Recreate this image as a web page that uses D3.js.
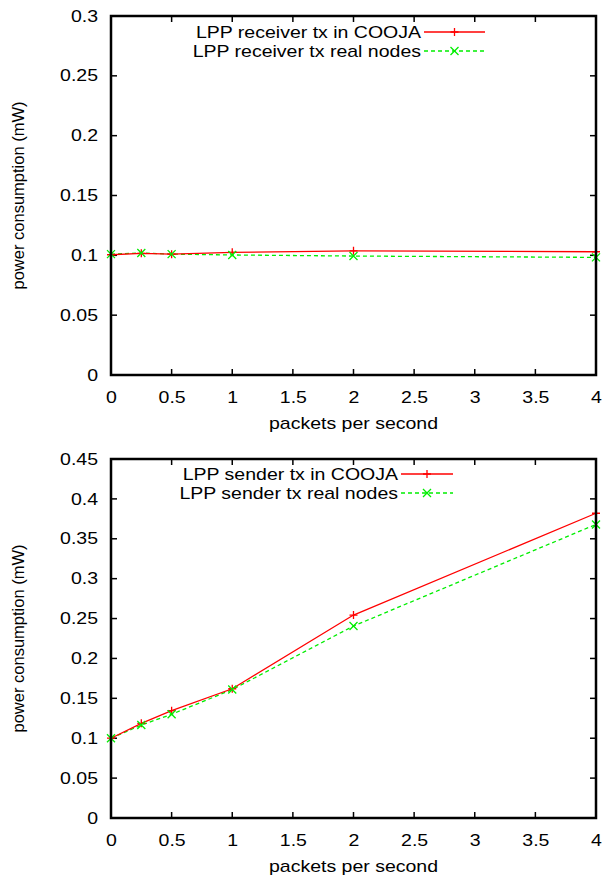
<!DOCTYPE html>
<html>
<head>
<meta charset="utf-8">
<script src="https://cdn.jsdelivr.net/npm/d3@7"></script>
<style>
  body { margin: 0; background: #fff; }
  text { font-family: "Liberation Sans", Arial, sans-serif; fill: #000; }
</style>
</head>
<body>
<div id="chart"></div>
<script>
// x values (packets per second)
const rate = [0, 0.25, 0.5, 1, 2, 4];

// top panel: receiver
const rxCooja = [0.1005, 0.1017, 0.101, 0.1025, 0.1038, 0.103];
const rxReal  = [0.101, 0.102, 0.101, 0.1003, 0.0994, 0.0983];

// bottom panel: sender
const txCooja = [0.1, 0.1187, 0.1345, 0.162, 0.2544, 0.382];
const txReal  = [0.1, 0.1165, 0.130, 0.161, 0.2406, 0.368];

const xTicks = [0, 0.5, 1, 1.5, 2, 2.5, 3, 3.5, 4];
const yTicksTop = [0, 0.05, 0.1, 0.15, 0.2, 0.25, 0.3];
const yTicksBot = [0, 0.05, 0.1, 0.15, 0.2, 0.25, 0.3, 0.35, 0.4, 0.45];

const W = 603, H = 877;
const sx = 1.22; // horizontal stretch of the text in the original
const svg = d3.select("#chart").append("svg")
    .attr("width", W)
    .attr("height", H);

function panel(opts) {
    const x = d3.scaleLinear().domain([0, 4]).range([111, 596]);
    const y = d3.scaleLinear().domain([0, opts.ymax]).range([opts.bottom, opts.top]);
    const g = svg.append("g");
    const tick = 6;

    // tick labels
    g.append("g")
        .attr("transform", `translate(${x(0)},0)`)
        .call(d3.axisLeft(y).tickValues(opts.yTicks).tickSize(0).tickPadding(0)
            .tickFormat(d => d3.format("~g")(d)))
        .call(a => a.select(".domain").remove())
        .selectAll("text")
            .style("font-size", "16px")
            .style("font-family", "Liberation Sans, Arial, sans-serif")
            .attr("x", 0)
            .attr("transform", `translate(-13,0) scale(${sx},1)`);

    g.append("g")
        .attr("transform", `translate(0,${y(0)})`)
        .call(d3.axisBottom(x).tickValues(xTicks).tickSize(0).tickPadding(0)
            .tickFormat(d => d3.format("~g")(d)))
        .call(a => a.select(".domain").remove())
        .selectAll("text")
            .style("font-size", "16px")
            .style("font-family", "Liberation Sans, Arial, sans-serif")
            .attr("y", 0).attr("dy", "0.35em")
            .attr("transform", `translate(0,22) scale(${sx},1)`);

    // inward ticks on all four sides
    const tk = g.append("g").attr("stroke", "#000").attr("stroke-width", 1.5);
    opts.yTicks.forEach(v => {
        tk.append("line").attr("x1", x(0)).attr("x2", x(0) + tick).attr("y1", y(v)).attr("y2", y(v));
        tk.append("line").attr("x1", x(4)).attr("x2", x(4) - tick).attr("y1", y(v)).attr("y2", y(v));
    });
    xTicks.forEach(v => {
        tk.append("line").attr("x1", x(v)).attr("x2", x(v)).attr("y1", y(0)).attr("y2", y(0) - tick);
        tk.append("line").attr("x1", x(v)).attr("x2", x(v)).attr("y1", y(opts.ymax)).attr("y2", y(opts.ymax) + tick);
    });

    // series
    const line = d3.line().x((d, i) => x(rate[i])).y(d => y(d));
    g.append("path").datum(opts.real)
        .attr("fill", "none").attr("stroke", "#00ee00").attr("stroke-width", 1.3)
        .attr("stroke-dasharray", "4,3").attr("d", line);
    g.append("path").datum(opts.cooja)
        .attr("fill", "none").attr("stroke", "#ff0000").attr("stroke-width", 1.3)
        .attr("d", line);

    const s = 4;
    const plus = (cx, cy) => `M${cx - s},${cy}H${cx + s}M${cx},${cy - s}V${cy + s}`;
    const cross = (cx, cy) => `M${cx - s},${cy - s}L${cx + s},${cy + s}M${cx - s},${cy + s}L${cx + s},${cy - s}`;

    g.selectAll(".ptr").data(opts.cooja).enter().append("path")
        .attr("d", (d, i) => plus(x(rate[i]), y(d)))
        .attr("stroke", "#ff0000").attr("stroke-width", 1.3);
    g.selectAll(".ptg").data(opts.real).enter().append("path")
        .attr("d", (d, i) => cross(x(rate[i]), y(d)))
        .attr("stroke", "#00ee00").attr("stroke-width", 1.3);

    // border
    g.append("rect")
        .attr("x", x(0)).attr("y", y(opts.ymax))
        .attr("width", x(4) - x(0)).attr("height", y(0) - y(opts.ymax))
        .attr("fill", "none").attr("stroke", "#000").attr("stroke-width", 2.5);

    // legend
    const leg = [
        { label: opts.names[0], color: "#ff0000", dash: null, mark: plus },
        { label: opts.names[1], color: "#00ee00", dash: "4,3", mark: cross }
    ];
    leg.forEach((l, i) => {
        const ly = opts.legY + i * 19;
        g.append("text")
            .attr("transform", `translate(${opts.legX},${ly}) scale(${sx},1)`)
            .attr("dy", "0.35em")
            .attr("text-anchor", "end").style("font-size", "16px").text(l.label);
        g.append("line").attr("x1", opts.legX + 3).attr("x2", opts.legX + opts.legW + 3)
            .attr("y1", ly).attr("y2", ly)
            .attr("stroke", l.color).attr("stroke-width", 1.3)
            .attr("stroke-dasharray", l.dash);
        g.append("path").attr("d", l.mark(opts.legX + 3 + opts.legW / 2, ly))
            .attr("stroke", l.color).attr("stroke-width", 1.3);
    });

    // axis titles
    g.append("text")
        .attr("transform", `translate(18,${(opts.top + opts.bottom) / 2}) rotate(-90)`)
        .attr("text-anchor", "middle").attr("dy", "0.35em")
        .style("font-size", "16.5px").text("power consumption (mW)");
    g.append("text")
        .attr("transform", `translate(${(x(0) + x(4)) / 2},${opts.bottom + 48}) scale(${sx},1)`)
        .attr("text-anchor", "middle").attr("dy", "0.35em")
        .style("font-size", "16px").text("packets per second");
}

panel({
    top: 16, bottom: 375, ymax: 0.3, yTicks: yTicksTop,
    cooja: rxCooja, real: rxReal,
    names: ["LPP receiver tx in COOJA", "LPP receiver tx real nodes"],
    legX: 421, legY: 32, legW: 61
});

panel({
    top: 459, bottom: 818, ymax: 0.45, yTicks: yTicksBot,
    cooja: txCooja, real: txReal,
    names: ["LPP sender tx in COOJA", "LPP sender tx real nodes"],
    legX: 398, legY: 474, legW: 52
});
</script>
</body>
</html>
